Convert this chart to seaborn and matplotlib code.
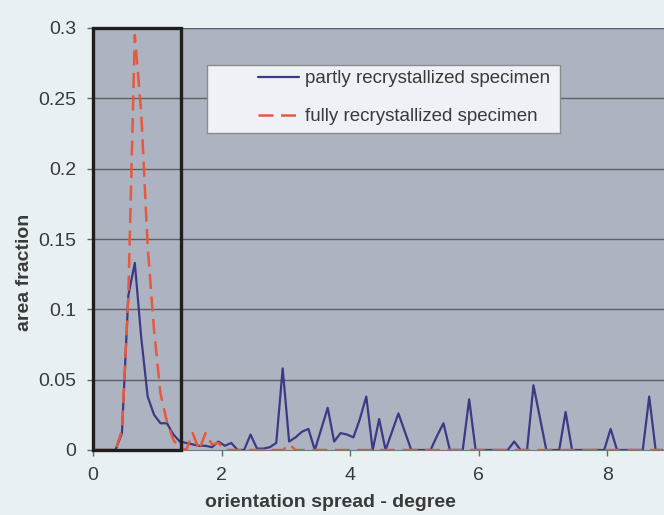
import numpy as np
import pandas as pd
import seaborn as sns
import matplotlib.pyplot as plt
from matplotlib.patches import Rectangle

# orientation spread bins (degree)
spread_deg = [0.05, 0.15, 0.25, 0.35, 0.45, 0.55, 0.65, 0.75, 0.85, 0.95,
              1.05, 1.15, 1.25, 1.35, 1.45, 1.55, 1.65, 1.75, 1.85, 1.95,
              2.05, 2.15, 2.25, 2.35, 2.45, 2.55, 2.65, 2.75, 2.85, 2.95,
              3.05, 3.15, 3.25, 3.35, 3.45, 3.55, 3.65, 3.75, 3.85, 3.95,
              4.05, 4.15, 4.25, 4.35, 4.45, 4.55, 4.65, 4.75, 4.85, 4.95,
              5.05, 5.15, 5.25, 5.35, 5.45, 5.55, 5.65, 5.75, 5.85, 5.95,
              6.05, 6.15, 6.25, 6.35, 6.45, 6.55, 6.65, 6.75, 6.85, 6.95,
              7.05, 7.15, 7.25, 7.35, 7.45, 7.55, 7.65, 7.75, 7.85, 7.95,
              8.05, 8.15, 8.25, 8.35, 8.45, 8.55, 8.65, 8.75, 8.85]

partly = [0, 0, 0, 0, 0.012, 0.11, 0.133, 0.08, 0.038, 0.025,
          0.019, 0.019, 0.011, 0.006, 0.005, 0.004, 0.003, 0.003, 0.002, 0.006,
          0.003, 0.005, 0, 0, 0.011, 0.001, 0.001, 0.002, 0.005, 0.058,
          0.006, 0.009, 0.013, 0.015, 0, 0.015, 0.03, 0.006, 0.012, 0.011,
          0.009, 0.022, 0.038, 0, 0.022, 0, 0.013, 0.026, 0.013, 0,
          0, 0, 0, 0.01, 0.019, 0, 0, 0, 0.036, 0,
          0, 0, 0, 0, 0, 0.006, 0, 0, 0.046, 0.023,
          0, 0, 0, 0.027, 0, 0, 0, 0, 0, 0,
          0.015, 0, 0, 0, 0, 0, 0.038, 0, 0]

fully = [0, 0, 0, 0, 0.014, 0.11, 0.295, 0.24, 0.145, 0.085,
         0.04, 0.02, 0.007, 0.002, 0, 0.012, 0, 0.012, 0.004, 0.005,
         0, 0, 0, 0, 0, 0, 0, 0, 0, 0,
         0.004, 0, 0, 0, 0, 0, 0, 0, 0, 0,
         0, 0, 0, 0, 0, 0, 0, 0, 0, 0,
         0, 0, 0, 0, 0, 0, 0, 0, 0, 0,
         0, 0, 0, 0, 0, 0, 0, 0, 0, 0,
         0, 0, 0, 0, 0, 0, 0, 0, 0, 0,
         0, 0, 0, 0, 0, 0, 0, 0, 0]

labels = ['partly recrystallized specimen', 'fully recrystallized specimen']
y_ticks = [0, 0.05, 0.1, 0.15, 0.2, 0.25, 0.3]
y_ticklabels = ['0', '0.05', '0.1', '0.15', '0.2', '0.25', '0.3']
x_ticks = [0, 2, 4, 6, 8]

sns.set_style('white')
plt.rcParams['font.family'] = ['Liberation Sans', 'DejaVu Sans']
text_col = '#3a3a3a'

df = pd.DataFrame({'spread': spread_deg, 'partly': partly, 'fully': fully})

fig = plt.figure(figsize=(6.64, 5.15), dpi=100, facecolor='#e8f0f4')
ax = fig.add_axes([93 / 664, 65 / 515, 571 / 664, 422 / 515])
ax.set_facecolor('#aeb3c2')

for y in y_ticks[1:]:
    ax.axhline(y, color='#5c5f66', lw=1.0, zorder=1)

sns.lineplot(data=df, x='spread', y='partly', color='#3c3a84', linewidth=1.6,
             label=labels[0], ax=ax, zorder=3)
sns.lineplot(data=df, x='spread', y='fully', color='#e8583c', linewidth=1.8,
             linestyle=(0, (6, 3)), label=labels[1], ax=ax, zorder=4)

ax.set_xlim(0, 8.88)
ax.set_ylim(0, 0.3)
ax.set_xticks(x_ticks)
ax.set_yticks(y_ticks)
ax.set_yticklabels(y_ticklabels)
ax.tick_params(axis='both', labelsize=14, colors=text_col, length=4, width=1,
               pad=8, direction='out', color='#666666')
ax.tick_params(axis='x', bottom=True)
ax.tick_params(axis='y', left=True)

for side in ['top', 'right']:
    ax.spines[side].set_visible(False)
ax.spines['left'].set_color('#555555')
ax.spines['bottom'].set_color('#777777')

ax.set_xlabel('orientation spread - degree', fontsize=14, fontweight='bold',
              color=text_col)
ax.set_ylabel('area fraction', fontsize=14, fontweight='bold', color=text_col)
ax.xaxis.set_label_coords(0.415, -0.104)
ax.yaxis.set_label_coords(-0.105, 0.42)

# black box around the main peak
ax.add_patch(Rectangle((0, 0), 1.37, 0.3, fill=False, edgecolor='#1e1e1e',
                       lw=2.4, zorder=5, clip_on=False))

# legend box
ax.add_patch(Rectangle((0.2, 0.751), 0.618, 0.161, transform=ax.transAxes,
                       facecolor='#eef1f6', edgecolor='#8a8c90', lw=1.0, zorder=6))
leg = ax.legend(loc='upper left', bbox_to_anchor=(0.289, 0.9), frameon=False,
                fontsize=13.5, handlelength=2.2, handletextpad=0.3,
                labelspacing=1.1, borderpad=0, borderaxespad=0)
leg.set_zorder(7)
for t in leg.get_texts():
    t.set_color(text_col)

fig.savefig('out.png', dpi=100, facecolor=fig.get_facecolor())
